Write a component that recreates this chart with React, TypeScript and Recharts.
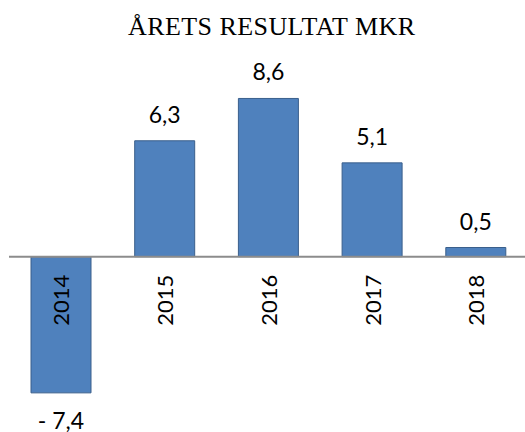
import React from "react";
import { BarChart, Bar, XAxis, YAxis, ReferenceLine, LabelList } from "recharts";

const years = ["2014", "2015", "2016", "2017", "2018"];
const results = [-7.4, 6.3, 8.6, 5.1, 0.5];
const title = "ÅRETS RESULTAT MKR";

const data = years.map((y, i) => ({ year: y, value: results[i] }));

const fmt = (v: number) => {
  const s = Math.abs(v).toFixed(1).replace(".", ",");
  return v < 0 ? `- ${s}` : s;
};

const labelFont = "Lato, 'Noto Sans', sans-serif";

const ValueLabel = (props: any) => {
  const { x, y, width, height, index } = props;
  const v = results[index];
  const top = Math.min(y, y + height);
  const bottom = Math.max(y, y + height);
  const cx = x + width / 2;
  const ty = v >= 0 ? top - 18 : bottom + 36;
  return (
    <text x={cx} y={ty} textAnchor="middle" fontFamily={labelFont} fontSize={23} fill="#000">
      {fmt(v)}
    </text>
  );
};

const YearLabel = (props: any) => {
  const { x, y, width, height, index } = props;
  const v = results[index];
  const top = Math.min(y, y + height);
  const bottom = Math.max(y, y + height);
  const zero = v >= 0 ? bottom : top;
  const cx = x + width / 2;
  return (
    <text
      transform={`translate(${cx + 0.5}, ${zero + 18}) rotate(-90)`}
      x={0}
      y={0}
      dy="0.36em"
      textAnchor="end"
      fontFamily={labelFont}
      fontSize={22}
      fill="#000"
    >
      {years[index]}
    </text>
  );
};

export default function App() {
  return (
    <div style={{ position: "absolute", left: 0, top: 0, width: 525, height: 432, background: "#fff" }}>
      <svg width={525} height={50} style={{ position: "absolute", left: 0, top: 0 }}>
        <text
          x={128}
          y={35}
          textLength={287}
          lengthAdjust="spacing"
          fontFamily="'Liberation Serif', 'Times New Roman', serif"
          fontSize={26}
          fill="#000"
        >
          {title}
        </text>
      </svg>
      <div style={{ position: "absolute", left: 0, top: 0 }}>
        <BarChart
          width={525}
          height={432}
          data={data}
          margin={{ top: 72.7, right: -2.5, bottom: 28.1, left: 9 }}
        >
          <XAxis dataKey="year" hide />
          <YAxis hide domain={[-8, 10]} type="number" allowDataOverflow />
          <Bar
            dataKey="value"
            fill="#4F81BD"
            stroke="#3A5F8B"
            strokeWidth={1}
            barSize={60}
            isAnimationActive={false}
          >
            <LabelList dataKey="value" content={ValueLabel} />
            <LabelList dataKey="year" content={YearLabel} />
          </Bar>
          <ReferenceLine y={0} stroke="#8C8C8C" strokeWidth={2} />
        </BarChart>
      </div>
    </div>
  );
}
